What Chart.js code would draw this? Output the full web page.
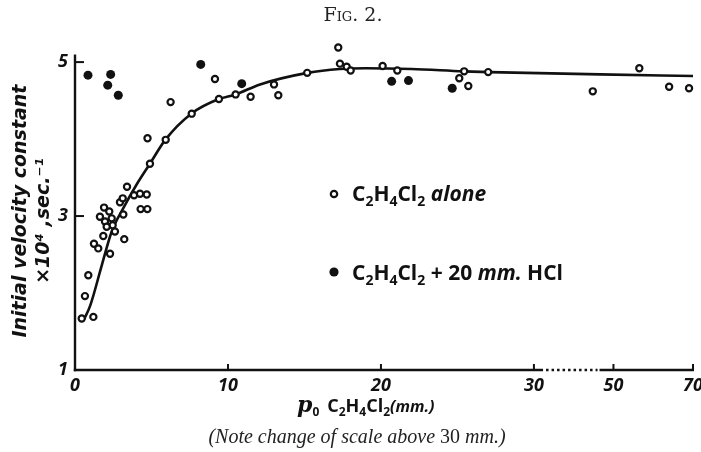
<!DOCTYPE html>
<html>
<head>
<meta charset="utf-8">
<script src="https://cdn.jsdelivr.net/npm/chart.js@4.4.0/dist/chart.umd.min.js"></script>
<style>
    html, body { margin: 0; padding: 0; background: #fff; }
    #wrap { position: relative; width: 701px; height: 452px; overflow: hidden; }
    #fig {
        position: absolute; top: 3px; left: 0; width: 706px; text-align: center;
        font-family: "DejaVu Serif", serif; font-variant: small-caps;
        font-size: 19px; color: #222;
    }
    #note {
        position: absolute; top: 425px; left: 0; width: 714px; text-align: center;
        font-family: "Liberation Serif", serif; font-style: italic;
        font-size: 20px; color: #222;
    }
    #note span { font-style: normal; }
</style>
</head>
<body>
<div id="wrap">
    <canvas id="c" width="701" height="452"></canvas>
    <div id="fig">Fig. 2.</div>
    <div id="note">(Note change of scale above <span>30</span> mm.)</div>
</div>
<script>
// p0 of C2H4Cl2 in mm, initial velocity constant x10^4 sec^-1
const aloneX = [0.44, 1.20, 0.65, 0.87, 1.24, 1.52, 2.29, 1.85, 3.22, 2.61,
                1.96, 2.46, 2.07, 1.63, 2.40, 3.16, 1.90, 2.24, 4.29, 4.73,
                2.94, 3.12, 3.86, 4.25, 4.69, 3.40, 4.90, 4.74, 5.93, 6.25,
                7.63, 9.15, 9.41, 10.50, 11.48, 13.01, 13.29, 15.18, 17.21, 17.32,
                17.76, 18.02, 20.11, 21.07, 25.12, 25.44, 25.71, 27.01, 44.8, 56.5,
                64.0, 69.0];
const aloneY = [1.67, 1.69, 1.96, 2.23, 2.64, 2.58, 2.51, 2.74, 2.70, 2.80,
                2.93, 2.88, 2.86, 2.99, 2.97, 3.02, 3.11, 3.06, 3.09, 3.09,
                3.18, 3.23, 3.27, 3.29, 3.28, 3.38, 3.68, 4.01, 3.99, 4.48,
                4.33, 4.78, 4.52, 4.58, 4.55, 4.71, 4.57, 4.86, 5.19, 4.98,
                4.94, 4.89, 4.95, 4.89, 4.79, 4.88, 4.69, 4.87, 4.62, 4.92,
                4.68, 4.66];

const hclX = [0.85, 2.33, 2.14, 2.83, 8.22, 10.9, 20.7, 21.8, 24.66];
const hclY = [4.83, 4.84, 4.70, 4.57, 4.97, 4.72, 4.75, 4.76, 4.66];

// drawn curve
const curveX = [0.55, 1.0, 1.75, 2.4, 3.15, 4.0, 4.9, 5.9, 7.6, 9.4,
                10.5, 12.1, 15.2, 17.3, 19.0, 22.0, 25.4, 27.1, 46.6, 70];
const curveY = [1.64, 1.84, 2.36, 2.80, 3.10, 3.40, 3.68, 3.99, 4.33, 4.52,
                4.58, 4.71, 4.86, 4.91, 4.92, 4.91, 4.88, 4.87, 4.84, 4.82];

const xTicks = [0, 10, 20, 30, 50, 70];
const yTicks = [1, 3, 5];

const INK = "#111";
const BREAK_AT = 30;      // scale changes here
const SQUEEZE = 0.26;     // above 30 mm one mm takes this much room
const DOTS_FROM = 32.3, DOTS_TO = 46.5;
const Y_AXIS_TOP = 5.1;   // drawn axis stops here, a stray point sits above it

function fold(v) {
    return v <= BREAK_AT ? v : BREAK_AT + (v - BREAK_AT) * SQUEEZE;
}
function unfold(u) {
    return u <= BREAK_AT ? u : BREAK_AT + (u - BREAK_AT) / SQUEEZE;
}

// linear scale with a squeezed part above 30 mm
class BrokenLinearScale extends Chart.LinearScale {
    getPixelForValue(value) {
        if (value === null || value === undefined) return NaN;
        return this.getPixelForDecimal((fold(value) - fold(this.min)) / (fold(this.max) - fold(this.min)));
    }
    getValueForPixel(pixel) {
        const u = fold(this.min) + this.getDecimalForPixel(pixel) * (fold(this.max) - fold(this.min));
        return unfold(u);
    }
}
BrokenLinearScale.id = "brokenLinear";
BrokenLinearScale.defaults = Chart.LinearScale.defaults;
Chart.register(BrokenLinearScale);

function pts(xs, ys) {
    return xs.map((x, i) => ({ x: x, y: ys[i] }));
}

function drawRuns(ctx, x, y, runs) {
    runs.forEach(r => {
        ctx.font = r.font;
        ctx.fillText(r.t, x, y + (r.dy || 0));
        x += ctx.measureText(r.t).width + (r.gap || 0);
    });
}

const BIG = 'bold 21px "Open Sans"';
const BIG_I = 'italic bold 21px "Open Sans"';
const SUB = 'bold 14px "Open Sans"';

function formula(big, sub, dy) {
    return [
        { t: "C", font: big }, { t: "2", font: sub, dy: dy },
        { t: "H", font: big }, { t: "4", font: sub, dy: dy },
        { t: "Cl", font: big }, { t: "2", font: sub, dy: dy }
    ];
}

const paperPlugin = {
    id: "paperAxes",
    afterDraw(chart) {
        const ctx = chart.ctx;
        const a = chart.chartArea;
        const xs = chart.scales.x, ys = chart.scales.y;
        ctx.save();
        ctx.strokeStyle = INK;
        ctx.fillStyle = INK;
        ctx.lineWidth = 2.4;

        function line(x1, y1, x2, y2) {
            ctx.beginPath(); ctx.moveTo(x1, y1); ctx.lineTo(x2, y2); ctx.stroke();
        }

        // axes
        line(a.left, ys.getPixelForValue(Y_AXIS_TOP), a.left, a.bottom + 1.2);
        line(a.left - 1.2, a.bottom, xs.getPixelForValue(DOTS_FROM), a.bottom);
        line(xs.getPixelForValue(DOTS_TO), a.bottom, a.right + 1, a.bottom);
        ctx.setLineDash([2.5, 3]);
        line(xs.getPixelForValue(DOTS_FROM) + 3, a.bottom, xs.getPixelForValue(DOTS_TO) - 2, a.bottom);
        ctx.setLineDash([]);

        // inward tick marks
        ctx.lineWidth = 2;
        xTicks.slice(1).forEach(v => {
            const px = xs.getPixelForValue(v);
            line(px, a.bottom, px, a.bottom - 6);
        });
        yTicks.slice(1).forEach(v => {
            const py = ys.getPixelForValue(v);
            line(a.left, py, a.left + 9, py);
        });

        // x axis title
        ctx.textBaseline = "alphabetic";
        ctx.textAlign = "left";
        drawRuns(ctx, 297, 412, [
            { t: "p", font: 'italic bold 22px "DejaVu Serif"' },
            { t: "0", font: 'bold 12px "Open Sans"', dy: 4, gap: 8 }
        ].concat(formula('bold 18px "Open Sans"', 'bold 12px "Open Sans"', 4), [
            { t: "(mm.)", font: 'italic bold 16px "Open Sans"' }
        ]));

        // legend
        ctx.beginPath();
        ctx.arc(334, 194, 3.2, 0, Math.PI * 2);
        ctx.lineWidth = 2.2;
        ctx.stroke();
        ctx.beginPath();
        ctx.arc(334, 272, 4.6, 0, Math.PI * 2);
        ctx.fill();

        drawRuns(ctx, 352, 201, formula(BIG, SUB, 5).concat([
            { t: " alone", font: BIG_I }
        ]));
        drawRuns(ctx, 352, 280, formula(BIG, SUB, 5).concat([
            { t: " + 20 ", font: BIG },
            { t: "mm. ", font: BIG_I },
            { t: "HCl", font: BIG }
        ]));
        ctx.restore();
    }
};

const tickFont = { family: "Open Sans", style: "italic", weight: "bold", size: 18 };

new Chart(document.getElementById("c"), {
    type: "scatter",
    data: {
        datasets: [
            {
                label: "C2H4Cl2 alone",
                data: pts(aloneX, aloneY),
                pointRadius: 3.1,
                pointBorderWidth: 2.2,
                pointBorderColor: INK,
                pointBackgroundColor: "#fff",
                clip: false
            },
            {
                label: "C2H4Cl2 + 20 mm. HCl",
                data: pts(hclX, hclY),
                pointRadius: 4.5,
                pointBorderWidth: 0,
                pointBackgroundColor: INK,
                clip: false
            },
            {
                label: "curve",
                type: "line",
                data: pts(curveX, curveY),
                borderColor: INK,
                borderWidth: 2.6,
                pointRadius: 0,
                tension: 0.4,
                cubicInterpolationMode: "monotone",
                clip: false
            }
        ]
    },
    options: {
        responsive: false,
        devicePixelRatio: 1,
        animation: false,
        layout: { padding: { top: 39, right: 8, left: 0, bottom: 0 } },
        plugins: {
            legend: { display: false },
            tooltip: { enabled: false }
        },
        scales: {
            x: {
                type: "brokenLinear",
                min: 0,
                max: 70,
                grid: { display: false, drawTicks: false },
                border: { display: false },
                afterBuildTicks: s => { s.ticks = xTicks.map(v => ({ value: v })); },
                afterFit: s => { s.height = 82; s.paddingLeft = 0; s.paddingRight = 0; },
                ticks: {
                    autoSkip: false, maxRotation: 0, padding: 5,
                    color: INK, font: tickFont,
                    callback: v => String(v)
                }
            },
            y: {
                min: 1,
                max: 5.3,
                grid: { display: false, drawTicks: false },
                border: { display: false },
                afterBuildTicks: s => { s.ticks = yTicks.map(v => ({ value: v })); },
                afterFit: s => { s.width = 75; s.paddingTop = 0; s.paddingBottom = 0; },
                ticks: {
                    padding: 7, color: INK, font: tickFont,
                    callback: v => String(v)
                },
                title: {
                    display: true,
                    text: ["Initial velocity constant  ", "×10⁴ ,sec.⁻¹     "],
                    color: INK,
                    font: { family: "DejaVu Sans", style: "italic", weight: "bold", size: 19, lineHeight: 1.2 },
                    padding: { top: 10, bottom: 0 }
                }
            }
        }
    },
    plugins: [paperPlugin]
});
</script>
</body>
</html>
